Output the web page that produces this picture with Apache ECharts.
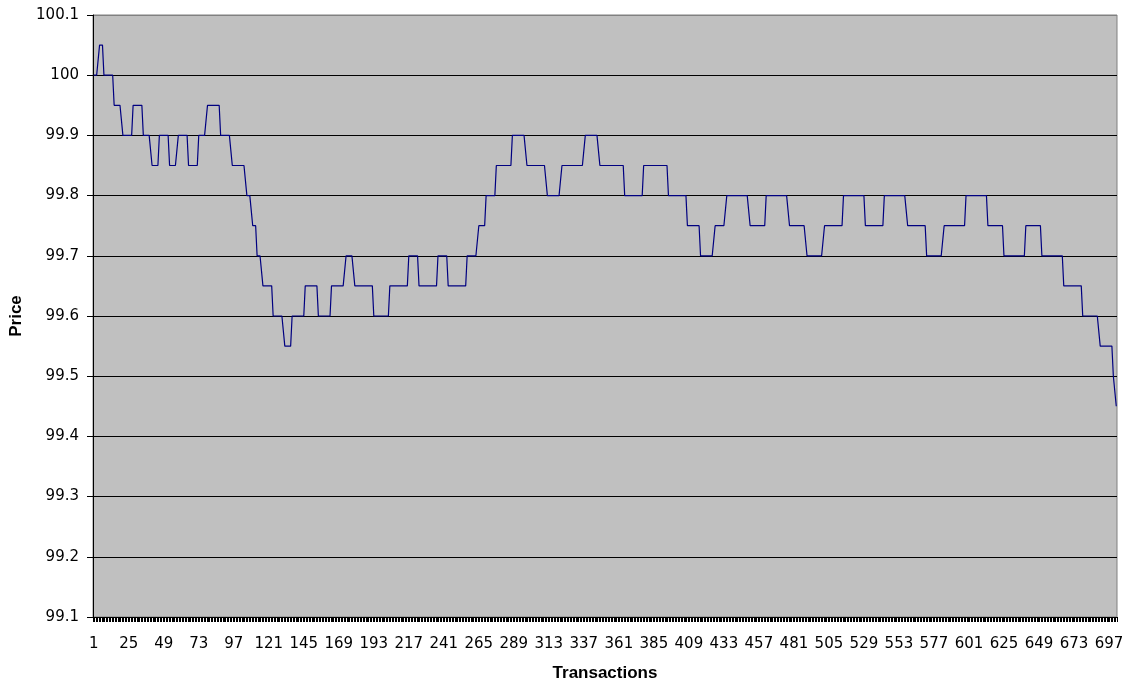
<!DOCTYPE html>
<html>
<head>
<meta charset="utf-8">
<title>Price</title>
<script src="https://cdn.jsdelivr.net/npm/echarts@6/dist/echarts.min.js"></script>
<style>
  html, body { margin: 0; padding: 0; background: #fff; }
  #chart { width: 1136px; height: 682px; }
</style>
</head>
<body>
<div id="chart"></div>
<script>
// price levels, each held for runLengths[i] transactions
const priceLevels = [
  100, 100.05, 100, 99.95, 99.9, 99.95, 99.9, 99.85, 99.9, 99.85,
  99.9, 99.85, 99.9, 99.95, 99.9, 99.85, 99.8, 99.75, 99.7, 99.65,
  99.6, 99.55, 99.6, 99.65, 99.6, 99.65, 99.7, 99.65, 99.6, 99.65,
  99.7, 99.65, 99.7, 99.65, 99.7, 99.75, 99.8, 99.85, 99.9, 99.85,
  99.8, 99.85, 99.9, 99.85, 99.8, 99.85, 99.8, 99.75, 99.7, 99.75,
  99.8, 99.75, 99.8, 99.75, 99.7, 99.75, 99.8, 99.75, 99.8, 99.75,
  99.7, 99.75, 99.8, 99.75, 99.7, 99.75, 99.7, 99.65, 99.6, 99.55,
  99.5, 99.45
]
const runLengths = [
  4, 3, 7, 6, 7, 7, 6, 5, 7, 6,
  7, 7, 6, 9, 8, 10, 4, 3, 4, 7,
  8, 5, 9, 9, 9, 10, 6, 13, 11, 13,
  7, 13, 7, 13, 8, 5, 7, 11, 10, 14,
  10, 16, 10, 17, 13, 17, 13, 9, 10, 8,
  16, 11, 16, 12, 12, 13, 15, 13, 16, 13,
  12, 15, 15, 11, 15, 11, 15, 13, 12, 9,
  2, 1
]
const yTicks = { min: 99.1, max: 100.1, step: 0.1 }

// one price per transaction
const prices = []
priceLevels.forEach((p, i) => {
  for (let k = 0; k < runLengths[i]; k++) prices.push(p)
})
// transaction numbers 1..n
const transactions = prices.map((_, i) => String(i + 1))

const tickFont = { fontFamily: "DejaVu Sans", fontSize: 15, color: "#000" }
const nameFont = { fontFamily: "Liberation Sans", fontSize: 17, fontWeight: "bold", color: "#000" }

const chart = echarts.init(document.getElementById("chart"), null, { renderer: "canvas" })
const option = {
  animation: false,
  backgroundColor: "#fff",
  grid: {
    left: 93,
    top: 15,
    right: 19,
    bottom: 65,
    outerBoundsMode: "none",
    show: true,
    backgroundColor: "#c0c0c0",
    borderColor: "#808080",
    borderWidth: 1,
  },
  xAxis: {
    type: "category",
    data: transactions,
    name: "Transactions",
    nameLocation: "middle",
    nameGap: 48,
    nameTextStyle: nameFont,
    axisLine: { lineStyle: { color: "#000", width: 1 } },
    axisTick: { show: true, interval: 0, length: 5, lineStyle: { color: "#000" } },
    axisLabel: { interval: 23, margin: 20, ...tickFont },
    splitLine: { show: false },
  },
  yAxis: {
    type: "value",
    min: yTicks.min,
    max: yTicks.max,
    interval: yTicks.step,
    name: "Price",
    nameLocation: "middle",
    nameRotate: 90,
    nameGap: 66,
    nameTextStyle: nameFont,
    axisLine: { show: true, lineStyle: { color: "#000", width: 1 } },
    axisTick: { show: true, length: 6, lineStyle: { color: "#000" } },
    axisLabel: { margin: 14, ...tickFont },
    splitLine: {
      show: true,
      lineStyle: {
        // top line is the gray plot border
        color: ["#000", "#000", "#000", "#000", "#000", "#000", "#000", "#000", "#000", "#000", "#808080"],
        width: 1,
      },
    },
  },
  series: [
    {
      type: "line",
      data: prices,
      symbol: "none",
      lineStyle: { color: "#000080", width: 1.2 },
      itemStyle: { color: "#000080" },
    },
  ],
}
chart.setOption(option)
</script>
</body>
</html>
